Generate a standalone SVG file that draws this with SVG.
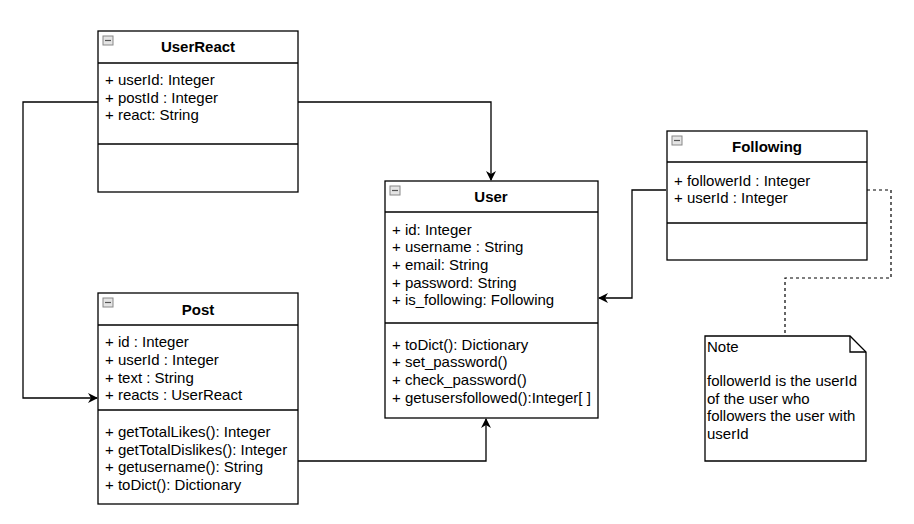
<svg xmlns="http://www.w3.org/2000/svg" width="914" height="524" viewBox="0 0 914 524">
<style>
.box{fill:#fff;stroke:#000;stroke-width:1.3}
.div{stroke:#000;stroke-width:1.3}
.t{font-family:"Liberation Sans",Arial,sans-serif;font-size:15px;fill:#000}
.h{font-family:"Liberation Sans",Arial,sans-serif;font-size:15px;font-weight:bold;fill:#000;text-anchor:middle}
.ic{fill:#e4e4e4;stroke:#888;stroke-width:1}
.icm{stroke:#555;stroke-width:1.2}
.c{fill:none;stroke:#000;stroke-width:1.3}
.d{fill:none;stroke:#000;stroke-width:1.2;stroke-dasharray:3 3}
</style>
<defs>
<marker id="arr" viewBox="0 0 10 10" refX="9" refY="5" markerWidth="10" markerHeight="10" markerUnits="userSpaceOnUse" orient="auto">
<path d="M0,0 L10,5 L0,10 L3,5 Z" fill="#000"/>
</marker>
<g id="icon"><rect class="ic" x="0" y="0" width="10" height="9"/><line class="icm" x1="2" y1="4.5" x2="8" y2="4.5"/></g>
</defs>
<rect width="914" height="524" fill="#fff"/>
<g id="connectors">
<path class="c" d="M298,102 H491 V180" marker-end="url(#arr)"/>
<path class="c" d="M98,102 H23 V398 H97" marker-end="url(#arr)"/>
<path class="c" d="M666,190 H632 V298 H599" marker-end="url(#arr)"/>
<path class="c" d="M298,461 H486 V419" marker-end="url(#arr)"/>
<path class="d" d="M867,190 H891 V278 H785 V336"/>
</g>
<g id="UserReact">
<rect class="box" x="98" y="31" width="200" height="161"/>
<line class="div" x1="98" y1="63" x2="298" y2="63"/>
<line class="div" x1="98" y1="144" x2="298" y2="144"/>
<use href="#icon" x="103" y="36"/>
<text class="h" x="198" y="52">UserReact</text>
<text class="t" x="105" y="85">+ userId: Integer</text>
<text class="t" x="105" y="102.5">+ postId : Integer</text>
<text class="t" x="105" y="120">+ react: String</text>
</g>
<g id="User">
<rect class="box" x="385" y="181" width="213" height="237"/>
<line class="div" x1="385" y1="212" x2="598" y2="212"/>
<line class="div" x1="385" y1="323" x2="598" y2="323"/>
<use href="#icon" x="390" y="186"/>
<text class="h" x="491" y="202">User</text>
<text class="t" x="392" y="235">+ id: Integer</text>
<text class="t" x="392" y="252">+ username : String</text>
<text class="t" x="392" y="270">+ email: String</text>
<text class="t" x="392" y="288">+ password: String</text>
<text class="t" x="392" y="305">+ is_following: Following</text>
<text class="t" x="392" y="350">+ toDict(): Dictionary</text>
<text class="t" x="392" y="367">+ set_password()</text>
<text class="t" x="392" y="385">+ check_password()</text>
<text class="t" x="392" y="403">+ getusersfollowed():Integer[ ]</text>
</g>
<g id="Following">
<rect class="box" x="667" y="131" width="200" height="129"/>
<line class="div" x1="667" y1="162" x2="867" y2="162"/>
<line class="div" x1="667" y1="223" x2="867" y2="223"/>
<use href="#icon" x="672" y="136"/>
<text class="h" x="767" y="152">Following</text>
<text class="t" x="674" y="186">+ followerId : Integer</text>
<text class="t" x="674" y="203">+ userId : Integer</text>
</g>
<g id="Post">
<rect class="box" x="98" y="293" width="200" height="211"/>
<line class="div" x1="98" y1="325" x2="298" y2="325"/>
<line class="div" x1="98" y1="410" x2="298" y2="410"/>
<use href="#icon" x="103" y="298"/>
<text class="h" x="198" y="315">Post</text>
<text class="t" x="105" y="347">+ id : Integer</text>
<text class="t" x="105" y="365">+ userId : Integer</text>
<text class="t" x="105" y="383">+ text : String</text>
<text class="t" x="105" y="400">+ reacts : UserReact</text>
<text class="t" x="105" y="437">+ getTotalLikes(): Integer</text>
<text class="t" x="105" y="455">+ getTotalDislikes(): Integer</text>
<text class="t" x="105" y="472">+ getusername(): String</text>
<text class="t" x="105" y="490">+ toDict(): Dictionary</text>
</g>
<g id="Note">
<path class="box" d="M705,336 H850 L866,352 V461 H705 Z"/>
<path class="c" d="M850,336 V352 H866"/>
<text class="t" x="707" y="352">Note</text>
<text class="t" x="707" y="386">followerId is the userId</text>
<text class="t" x="707" y="404">of the user who</text>
<text class="t" x="707" y="421">followers the user with</text>
<text class="t" x="707" y="439">userId</text>
</g>
</svg>
